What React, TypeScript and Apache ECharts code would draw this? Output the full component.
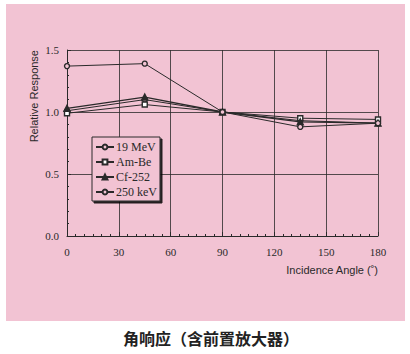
import React, { useEffect, useRef } from "react";
import * as echarts from "echarts";

const angles = [0, 45, 90, 135, 180];
const seriesNames = ["19 MeV", "Am-Be", "Cf-252", "250 keV"];
const mev19 = [1.01, 1.10, 1.0, 0.93, 0.91];
const amBe = [0.99, 1.06, 1.0, 0.95, 0.94];
const cf252 = [1.03, 1.12, 1.0, 0.92, 0.91];
const kev250 = [1.37, 1.39, 1.0, 0.88, 0.91];
const caption = "角响应（含前置放大器）";

const PINK = "#f2c3d3";
const INK = "#2a2a2a";

export default function App() {
  const ref = useRef<HTMLDivElement>(null);
  useEffect(() => {
    const chart = echarts.init(ref.current!, null, { renderer: "svg" });
    const values = [mev19, amBe, cf252, kev250];
    const symbols = ["circle", "rect", "triangle", "circle"];
    const fills = [PINK, "#ffffff", INK, PINK];
    const sizes = [5, 5, 6, 5];
    const widths = [1, 1, 1.3, 1];
    chart.setOption({
      animation: false,
      backgroundColor: "#ffffff",
      graphic: [
        { type: "rect", z: -10, shape: { x: 6, y: 4, width: 399, height: 317 }, style: { fill: PINK } },
        {
          type: "text",
          x: 211,
          y: 338,
          style: {
            text: caption,
            fill: "#222",
            font: "bold 16px 'Noto Sans CJK SC'",
            textAlign: "center",
            textVerticalAlign: "middle",
          },
        },
      ],
      grid: { left: 67, right: 32, top: 50, bottom: 118 },
      legend: {
        orient: "vertical",
        left: 92,
        top: 137,
        itemWidth: 18,
        itemHeight: 6,
        itemGap: 3,
        padding: [4, 3, 3, 3],
        backgroundColor: PINK,
        borderColor: INK,
        borderWidth: 1,
        shadowColor: "rgba(0,0,0,0.85)",
        shadowOffsetX: 2,
        shadowOffsetY: 2,
        shadowBlur: 0,
        textStyle: { fontFamily: "Liberation Serif", fontSize: 12, color: INK, padding: [0, 0, 0, -3] },
        data: seriesNames,
      },
      xAxis: {
        type: "value",
        min: 0,
        max: 180,
        interval: 30,
        axisLine: { lineStyle: { color: INK, width: 1 } },
        axisTick: { inside: true, length: 4, lineStyle: { color: INK } },
        minorTick: { show: true, splitNumber: 6, length: 2, lineStyle: { color: INK } },
        splitLine: { show: true, lineStyle: { color: INK, width: 0.8 } },
        axisLabel: { fontFamily: "Liberation Serif", fontSize: 11, color: INK, margin: 10 },
        name: "Incidence Angle (˚)",
        nameLocation: "end",
        nameGap: 0,
        nameTextStyle: {
          fontFamily: "Liberation Sans",
          fontSize: 11,
          color: INK,
          align: "right",
          verticalAlign: "top",
          padding: [28, 0, 0, 0],
        },
      },
      yAxis: {
        type: "value",
        min: 0,
        max: 1.5,
        interval: 0.5,
        axisLine: { show: true, lineStyle: { color: INK, width: 1 } },
        axisTick: { show: true, inside: true, length: 4, lineStyle: { color: INK } },
        minorTick: { show: true, splitNumber: 5, length: 2, lineStyle: { color: INK } },
        splitLine: { show: true, lineStyle: { color: INK, width: 0.8 } },
        axisLabel: {
          fontFamily: "Liberation Serif",
          fontSize: 11,
          color: INK,
          margin: 8,
          formatter: (v: number) => v.toFixed(1),
        },
        name: "Relative Response",
        nameLocation: "end",
        nameRotate: 90,
        nameGap: 0,
        nameTextStyle: {
          fontFamily: "Liberation Sans",
          fontSize: 11,
          color: INK,
          align: "right",
          verticalAlign: "bottom",
          padding: [0, 0, 28, 0],
        },
      },
      series: seriesNames.map((name, i) => ({
        name,
        type: "line",
        data: angles.map((a, j) => [a, values[i][j]]),
        symbol: symbols[i],
        symbolSize: sizes[i],
        lineStyle: { color: INK, width: widths[i] },
        itemStyle: { color: fills[i], borderColor: INK, borderWidth: 1.4 },
        emphasis: { disabled: true },
      })),
    });
    return () => chart.dispose();
  }, []);
  return (
    <div
      ref={ref}
      style={{ position: "fixed", left: 0, top: 0, width: 410, height: 354 }}
    />
  );
}
